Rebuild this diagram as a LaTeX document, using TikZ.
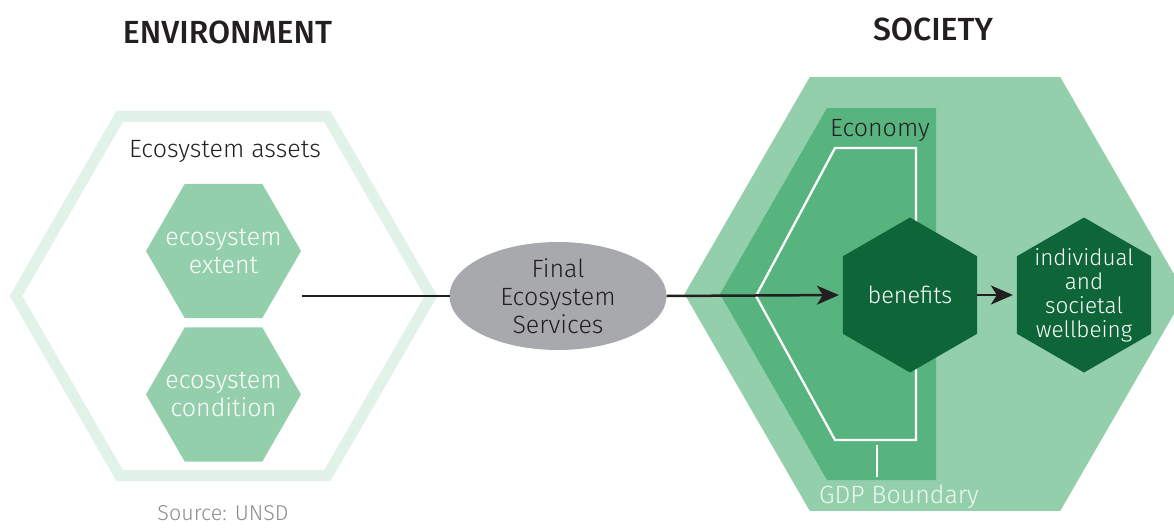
\documentclass[tikz,border=0pt]{standalone}
\usepackage{fontspec}
\setmainfont{Fira Sans Light}[BoldFont={Fira Sans Medium}]
\usetikzlibrary{shapes.geometric,arrows.meta}
\definecolor{palegreen}{HTML}{E1F2E8}
\definecolor{lightgreen}{HTML}{94CFAB}
\definecolor{midgreen}{HTML}{58B47F}
\definecolor{darkgreen}{HTML}{0E6638}
\definecolor{ellgray}{HTML}{A7A9AC}
\definecolor{inkdark}{HTML}{231F20}
\definecolor{srcgray}{HTML}{8C8C8C}
\definecolor{gdpwhite}{HTML}{EEF8F1}
\begin{document}
\begin{tikzpicture}[x=1pt,y=-1pt,
  hexflat/.style={regular polygon, regular polygon sides=6, minimum size=155pt,
    inner sep=0pt, outer sep=0pt, fill=lightgreen},
  hexpoint/.style={regular polygon, regular polygon sides=6, shape border rotate=30,
    minimum size=155pt, inner sep=0pt, outer sep=0pt, fill=darkgreen},
  title/.style={font=\bfseries\fontsize{32}{36}\selectfont, text=inkdark, inner sep=0pt},
  lbl/.style={font=\fontsize{25}{28}\selectfont, align=center, inner sep=0pt},
  lblsmall/.style={font=\fontsize{22.5}{24}\selectfont, align=center, inner sep=0pt},
  flow/.style={line width=2.5pt, draw=inkdark},
  flowarrow/.style={flow, -{Stealth[length=22pt, width=19pt, inset=6pt]}, shorten >=4pt},
  whiteline/.style={draw=white, line width=2.3pt}
]
\useasboundingbox (0,0) rectangle (1174,527);
\clip (0,0) rectangle (1174,527);

% titles
\node[title] (envtitle) at (227.5,32) {ENVIRONMENT};
\node[title] (soctitle) at (933,29) {SOCIETY};

% environment side
\node[regular polygon, regular polygon sides=6, minimum size=415pt, inner sep=0pt,
  outer sep=0pt, draw=palegreen, line width=11pt] (assets) at (223.5,296) {};
\node[lbl, text=inkdark] (assetslbl) at (225,151) {Ecosystem assets};
\node[hexflat] (extent) at (223.5,251) {};
\node[lbl, text=white] (extentlbl) at (extent.center) {ecosystem\\extent};
\node[hexflat] (condition) at (223.5,394.5) {};
\node[lbl, text=white] (conditionlbl) at (condition.center) {ecosystem\\condition};
\node[text=srcgray, font=\fontsize{21.5}{24}\selectfont, inner sep=0pt] (source) at (223,513) {Source: UNSD};

% services ellipse
\node[ellipse, fill=ellgray, minimum width=217pt, minimum height=108pt, inner sep=0pt,
  outer sep=0pt] (services) at (558,296) {};
\node[lbl, text=inkdark] (serviceslbl) at (services.center) {Final\\Ecosystem\\Services};

% society side
\node[regular polygon, regular polygon sides=6, minimum size=501pt, inner sep=0pt,
  outer sep=0pt, fill=lightgreen] (society) at (935,294) {};
\fill[midgreen] (827,108) -- (936,108) -- (936,480) -- (827,480) -- (720,294) -- cycle;
\draw[whiteline] (916,148) -- (835,148) -- (756,296) -- (835,440) -- (916,440) -- cycle;
\coordinate (tickTop) at (877,445);
\coordinate (tickBot) at (877,477);
\draw[whiteline] (tickTop) -- (tickBot);
\node[lbl, text=inkdark] (economylbl) at (880,130) {Economy};
\node[lbl, text=gdpwhite] (gdplbl) at (899,497) {GDP Boundary};

\node[hexpoint] (benefits) at (910,295) {};
\node[lbl, text=white, font=\fontsize{23.5}{28}\selectfont] (benefitslbl) at (benefits.center) {benefits};
\node[hexpoint] (wellbeing) at (1084,295) {};
\node[lblsmall, text=white] (wellbeinglbl) at (wellbeing.center) {individual\\and\\societal\\wellbeing};

% connectors
\coordinate (lineStart) at (302,296);
\draw[flow] (lineStart) -- (services.west);
\draw[flowarrow] (services.east) -- (benefits.west);
\draw[flowarrow] (benefits.east) -- (wellbeing.west);
\end{tikzpicture}
\end{document}
